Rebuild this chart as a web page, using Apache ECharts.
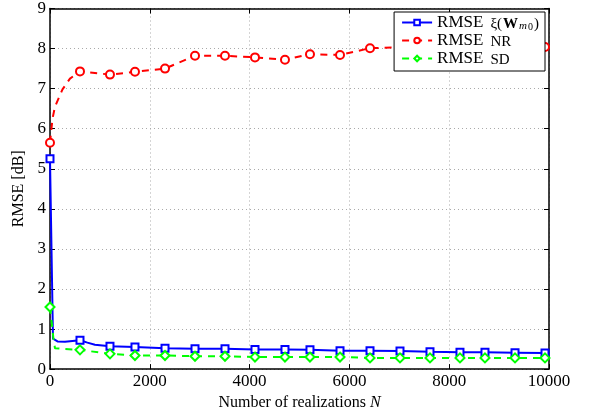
<!DOCTYPE html>
<html><head><meta charset="utf-8">
<script src="https://cdn.jsdelivr.net/npm/echarts@6/dist/echarts.min.js"></script>
<style>html,body{margin:0;padding:0;background:#fff}#c{width:593px;height:416px}</style>
</head><body><div id="c"></div>
<script>
// Data
var markerN = [0, 601, 1202, 1703, 2305, 2906, 3507, 4108, 4709, 5210, 5812, 6413, 7014, 7615, 8216, 8717, 9319, 9920];
var blueN = [0, 60, 150, 300, 450, 601, 750, 900, 1202, 1703, 2305, 2906, 3507, 4108, 4709, 5210, 5812, 6413, 7014, 7615, 8216, 8717, 9319, 9920];
var blueY = [5.25, 0.76, 0.69, 0.68, 0.70, 0.72, 0.66, 0.61, 0.57, 0.55, 0.52, 0.51, 0.51, 0.49, 0.49, 0.48, 0.46, 0.46, 0.45, 0.43, 0.42, 0.42, 0.41, 0.40];
var redN = [0, 50, 100, 250, 400, 601, 900, 1202, 1703, 2305, 2906, 3507, 4108, 4709, 5210, 5812, 6413, 7014, 7615, 8216, 8717, 9319, 9920];
var redY = [5.65, 6.25, 6.55, 6.98, 7.25, 7.43, 7.39, 7.35, 7.42, 7.50, 7.82, 7.82, 7.78, 7.72, 7.86, 7.84, 8.01, 8.03, 8.05, 8.05, 8.05, 8.06, 8.04];
var greenN = [0, 40, 70, 100, 300, 601, 1202, 1703, 2305, 2906, 3507, 4108, 4709, 5210, 5812, 6413, 7014, 7615, 8216, 8717, 9319, 9920];
var greenY = [1.55, 1.10, 0.75, 0.52, 0.50, 0.48, 0.38, 0.34, 0.34, 0.32, 0.32, 0.30, 0.30, 0.30, 0.30, 0.28, 0.28, 0.28, 0.28, 0.28, 0.28, 0.28];
var xTicks = [0, 2000, 4000, 6000, 8000, 10000];
var yTicks = [0, 1, 2, 3, 4, 5, 6, 7, 8, 9];
var seriesNames = ['blue', 'red', 'green'];

function build(ns, ys) {
  return ns.map(function (n, i) {
    var item = { value: [n, ys[i]] };
    if (markerN.indexOf(n) < 0) item.symbol = 'none';
    return item;
  });
}

var FONT = 'Liberation Serif';
var chart = echarts.init(document.getElementById('c'), null, { renderer: 'canvas' });
var richLegend = {
  m: { fontFamily: FONT, fontSize: 17, lineHeight: 19, verticalAlign: 'middle', color: '#000' },
  s: { fontFamily: FONT, fontSize: 15, lineHeight: 12, verticalAlign: 'bottom', color: '#000' },
  s0: { fontFamily: FONT, fontSize: 15, lineHeight: 12, verticalAlign: 'bottom', color: '#000', padding: [0, 0, 0, 7] },
  sb: { fontFamily: FONT, fontSize: 15, fontWeight: 'bold', lineHeight: 12, verticalAlign: 'bottom', color: '#000', padding: [0, 1, 0, 1] },
  ss: { fontFamily: FONT, fontSize: 11, fontStyle: 'italic', lineHeight: 6, verticalAlign: 'bottom', color: '#000', padding: [0, 1, 0, 0] },
  sz: { fontFamily: FONT, fontSize: 10, lineHeight: 4, verticalAlign: 'bottom', color: '#000', padding: [0, 1, 0, 0] }
};
var axisCommonX = { type: 'value', min: 0, max: 10000, interval: 2000 };
var axisCommonY = { type: 'value', min: 0, max: 9, interval: 1 };
chart.setOption({
  animation: false,
  backgroundColor: '#fff',
  grid: { left: 50, right: 44, top: 7, bottom: 43, containLabel: false },
  legend: {
    orient: 'vertical', right: 48, top: 12, z: 20,
    backgroundColor: '#fff', borderColor: '#000', borderWidth: 1,
    padding: [2, 6, 3, 7], itemGap: 0, itemWidth: 30, itemHeight: 7,
    textStyle: { fontFamily: FONT, fontSize: 17, color: '#000', rich: richLegend },
    formatter: function (name) {
      if (name === 'blue') return '{m|RMSE}{s0|ξ(}{sb|W}{ss|m}{sz|0}{s|)}';
      if (name === 'red') return '{m|RMSE}{s0|NR}';
      return '{m|RMSE}{s0|SD}';
    },
    data: seriesNames
  },
  xAxis: [
    Object.assign({}, axisCommonX, {
      position: 'bottom',
      name: '{a|Number of realizations }{i|N}', nameLocation: 'middle', nameGap: 24,
      nameTextStyle: { fontFamily: FONT, fontSize: 16, color: '#000',
        rich: { a: { fontFamily: FONT, fontSize: 16, color: '#000' }, i: { fontFamily: FONT, fontSize: 16, fontStyle: 'italic', color: '#000' } } },
      axisLine: { show: true, lineStyle: { color: '#000', width: 1.5 } },
      axisTick: { show: true, inside: true, length: 5, lineStyle: { color: '#000' } },
      axisLabel: { fontFamily: FONT, fontSize: 17, color: '#000', margin: 4,
        formatter: function (v) { return xTicks.indexOf(v) >= 0 ? String(v) : ''; } },
      splitLine: { show: true, lineStyle: { color: '#aaa', type: [1, 3], width: 1 } }
    }),
    Object.assign({}, axisCommonX, {
      position: 'top',
      axisLine: { show: true, onZero: false, lineStyle: { color: '#000', width: 1.5 } },
      axisTick: { show: true, inside: true, length: 5, lineStyle: { color: '#000' } },
      axisLabel: { show: false }, splitLine: { show: false }
    })
  ],
  yAxis: [
    Object.assign({}, axisCommonY, {
      position: 'left',
      name: 'RMSE [dB]', nameLocation: 'middle', nameGap: 19, nameRotate: 90,
      nameTextStyle: { fontFamily: FONT, fontSize: 16, color: '#000' },
      axisLine: { show: true, lineStyle: { color: '#000', width: 1.5 } },
      axisTick: { show: true, inside: true, length: 5, lineStyle: { color: '#000' } },
      axisLabel: { fontFamily: FONT, fontSize: 17, color: '#000', margin: 4,
        formatter: function (v) { return yTicks.indexOf(v) >= 0 ? String(v) : ''; } },
      splitLine: { show: true, lineStyle: { color: '#aaa', type: [1, 3], width: 1 } }
    }),
    Object.assign({}, axisCommonY, {
      position: 'right',
      axisLine: { show: true, onZero: false, lineStyle: { color: '#000', width: 1.5 } },
      axisTick: { show: true, inside: true, length: 5, lineStyle: { color: '#000' } },
      axisLabel: { show: false }, splitLine: { show: false }
    })
  ],
  series: [
    { name: 'blue', type: 'line', data: build(blueN, blueY), symbol: 'emptyRect', symbolSize: 7,
      showAllSymbol: true, color: '#0000ff', z: 3,
      lineStyle: { color: '#0000ff', width: 2, type: 'solid' },
      itemStyle: { color: '#0000ff', borderColor: '#0000ff', borderWidth: 1.5 } },
    { name: 'red', type: 'line', data: build(redN, redY), symbol: 'emptyCircle', symbolSize: 8,
      showAllSymbol: true, color: '#ff0000', z: 3,
      lineStyle: { color: '#ff0000', width: 2, type: [7, 6] },
      itemStyle: { color: '#ff0000', borderColor: '#ff0000', borderWidth: 1.5 } },
    { name: 'green', type: 'line', data: build(greenN, greenY), symbol: 'emptyDiamond', symbolSize: 9,
      showAllSymbol: true, color: '#00ff00', z: 3,
      lineStyle: { color: '#00ff00', width: 2, type: [7, 6] },
      itemStyle: { color: '#00ff00', borderColor: '#00ff00', borderWidth: 1.5 } }
  ]
});
</script></body></html>
